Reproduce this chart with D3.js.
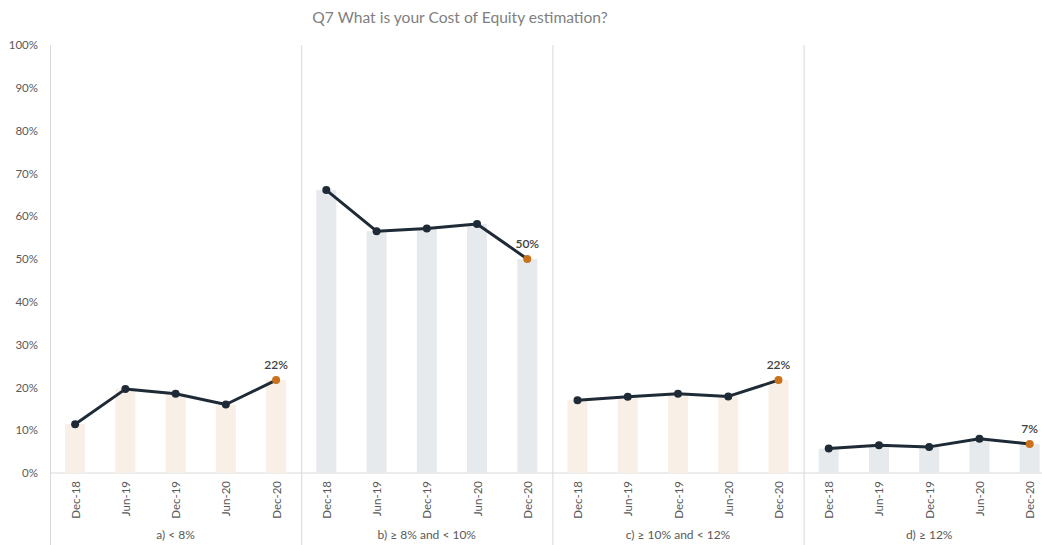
<!DOCTYPE html>
<html>
<head>
<meta charset="utf-8">
<script src="https://cdn.jsdelivr.net/npm/d3@7"></script>
<style>
  html, body { margin: 0; padding: 0; background: #fff; }
  svg { display: block; }
  text { font-family: Lato, "Open Sans", sans-serif; }
</style>
</head>
<body>
<svg id="chart" width="1042" height="545"></svg>
<script>
const title = "Q7 What is your Cost of Equity estimation?";
const categories = ["a) < 8%", "b) ≥ 8% and < 10%", "c) ≥ 10% and < 12%", "d) ≥ 12%"];
const periods = ["Dec-18", "Jun-19", "Dec-19", "Jun-20", "Dec-20"];
const valuesA = [11.4, 19.6, 18.5, 16.0, 21.7];
const valuesB = [66.1, 56.5, 57.1, 58.2, 50.0];
const valuesC = [17.0, 17.8, 18.5, 17.9, 21.7];
const valuesD = [5.7, 6.5, 6.1, 8.0, 6.8];
const lastLabels = ["22%", "50%", "22%", "7%"];
const yTicks = [0, 10, 20, 30, 40, 50, 60, 70, 80, 90, 100];

const series = [valuesA, valuesB, valuesC, valuesD];
const barColors = ["#f8efe6", "#e7eaed", "#f8efe6", "#e7eaed"];

const svg = d3.select("#chart");
const W = 1042, H = 545;
const left = 50, panelW = 251.2;
const y = d3.scaleLinear().domain([0, 100]).range([473, 45]);
const xOuter = d3.scaleBand().domain(categories).range([left, left + panelW * 4]);
const xInner = d3.scalePoint().domain(periods).range([0, panelW]).padding(0.5);
const barW = 20;
const gridColor = "#d9d9d9";
const ff = "Lato, 'Open Sans', sans-serif";

// title
svg.append("text")
  .attr("x", 460).attr("y", 23)
  .attr("text-anchor", "middle")
  .attr("font-size", 15.6)
  .attr("fill", "#7f7f7f")
  .text(title);

// y axis labels
const yAxis = d3.axisLeft(y).tickValues(yTicks).tickSize(0).tickPadding(12)
  .tickFormat(d => d + "%");
const yg = svg.append("g").attr("transform", `translate(${left},0)`).call(yAxis);
yg.select(".domain").remove();
yg.selectAll("text").attr("font-size", 11.5).attr("fill", "#595959")
  .attr("font-family", ff);

// baseline
svg.append("line")
  .attr("x1", left).attr("x2", W)
  .attr("y1", y(0)).attr("y2", y(0))
  .attr("stroke", gridColor).attr("stroke-width", 1);

// vertical panel separators (including left axis)
categories.forEach(c => {
  svg.append("line")
    .attr("x1", xOuter(c) + 0.5).attr("x2", xOuter(c) + 0.5)
    .attr("y1", y(100)).attr("y2", H)
    .attr("stroke", gridColor).attr("stroke-width", 1);
});

const line = d3.line().x((d, i) => xInner(periods[i])).y(d => y(d));

categories.forEach((c, k) => {
  const g = svg.append("g").attr("transform", `translate(${xOuter(c)},0)`);
  const vals = series[k];

  g.selectAll("rect.bar").data(vals).enter().append("rect")
    .attr("class", "bar")
    .attr("x", (d, i) => xInner(periods[i]) - barW / 2)
    .attr("width", barW)
    .attr("y", d => y(d))
    .attr("height", d => y(0) - y(d))
    .attr("fill", barColors[k]);

  g.append("path").datum(vals)
    .attr("d", line)
    .attr("fill", "none")
    .attr("stroke", "#1e2b37")
    .attr("stroke-width", 3)
    .attr("stroke-linejoin", "round");

  g.selectAll("circle.pt").data(vals).enter().append("circle")
    .attr("class", "pt")
    .attr("cx", (d, i) => xInner(periods[i]))
    .attr("cy", d => y(d))
    .attr("r", 4)
    .attr("fill", (d, i) => i === vals.length - 1 ? "#c8721c" : "#1e2b37");

  const last = vals.length - 1;
  g.append("text")
    .attr("x", xInner(periods[last]))
    .attr("y", y(vals[last]) - 11)
    .attr("text-anchor", "middle")
    .attr("font-size", 12)
    .attr("font-weight", 600)
    .attr("fill", "#404040")
    .text(lastLabels[k]);

  // x axis (rotated tick labels)
  const xAxis = d3.axisBottom(xInner).tickSize(0).tickPadding(0);
  const xg = g.append("g").attr("transform", `translate(0,${y(0)})`).call(xAxis);
  xg.select(".domain").remove();
  xg.selectAll("text")
    .attr("font-size", 11.5)
    .attr("fill", "#595959")
    .attr("font-family", ff)
    .attr("text-anchor", "end")
    .attr("transform", "rotate(-90)")
    .attr("x", -8).attr("y", 0).attr("dy", "0.35em");

  g.append("text")
    .attr("x", panelW / 2)
    .attr("y", 539)
    .attr("text-anchor", "middle")
    .attr("font-size", 12)
    .attr("fill", "#595959")
    .text(c);
});
</script>
</body>
</html>
